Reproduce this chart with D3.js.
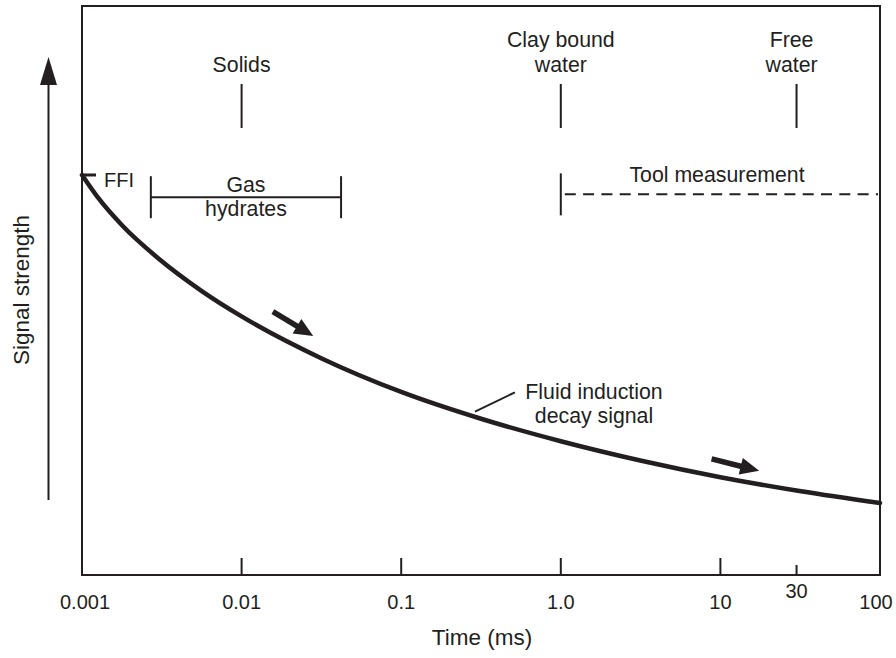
<!DOCTYPE html>
<html>
<head>
<meta charset="utf-8">
<script src="https://cdn.jsdelivr.net/npm/d3@7"></script>
<style>
  html, body { margin: 0; padding: 0; background: #fff; }
  svg { display: block; }
  text { font-family: "Liberation Sans", Arial, Helvetica, sans-serif; fill: #231f20; }
</style>
</head>
<body>
<svg id="chart" width="896" height="658"></svg>
<script>
// Fluid induction decay: time (ms) vs relative signal strength (0–100)
const decayTime   = [0.001, 0.00125, 0.0018, 0.003, 0.0056, 0.01, 0.032, 0.1, 0.32, 1, 3.2, 10, 32, 100];
const decaySignal = [70.30, 66.44, 61.33, 55.67, 49.95, 45.45, 38.02, 32.18, 27.42, 23.51, 20.08, 17.19, 14.71, 12.65];

// Time axis
const tickValues = [0.001, 0.01, 0.1, 1, 10, 30, 100];
const tickLabels = ["0.001", "0.01", "0.1", "1.0", "10", "30", "100"];

// Relaxation regions marked above the curve
const regionTimes  = [0.01, 1, 30];
const regionLabels = [["Solids"], ["Clay bound", "water"], ["Free", "water"]];

// Gas hydrates range (ms) and the level of its bracket
const hydrateRange = [0.0027, 0.042];
const hydrateLevel = 66.4;

// Tool measurement window starts here (ms)
const toolStart = 1;
const toolLevel = 66.9;

// FFI level at time zero
const ffiLevel = 70.3;

// Direction arrows along the curve: [t0, s0, t1, s1]
const flowArrows = [
  [0.0157, 46.3, 0.0281, 42.0],
  [8.81, 20.4, 17.5, 18.3]
];

// Leader for the curve label: [t0, s0, t1, s1]
const curveLeader = [0.29, 28.7, 0.516, 32.1];

const ink = "#231f20";
const svg = d3.select("#chart");

const plotL = 82, plotR = 880, plotT = 6, plotB = 575;
const x = d3.scaleLog().domain([0.001, 100]).range([plotL, plotR]);
const y = d3.scaleLinear().domain([0, 100]).range([plotB, plotT]);

// Frame
svg.append("rect")
  .attr("x", plotL).attr("y", plotT)
  .attr("width", plotR - plotL).attr("height", plotB - plotT)
  .attr("fill", "none").attr("stroke", ink).attr("stroke-width", 2);

// Bottom ticks (decades long, 30 ms short)
const inner = tickValues.filter(v => v > 0.001 && v < 100);
svg.append("g").selectAll("line").data(inner).join("line")
  .attr("x1", d => x(d)).attr("x2", d => x(d))
  .attr("y1", d => Number.isInteger(Math.log10(d)) ? plotB - 17 : plotB - 10)
  .attr("y2", plotB)
  .attr("stroke", ink).attr("stroke-width", 2);

svg.append("g").selectAll("text").data(tickValues).join("text")
  .attr("x", d => x(d) + (d === 100 ? -4 : (d === 0.001 ? 3 : 0)))
  .attr("y", d => d === 30 ? 598 : 609)
  .attr("text-anchor", "middle")
  .attr("font-size", 20)
  .text((d, i) => tickLabels[i]);

svg.append("text")
  .attr("x", 482).attr("y", 645)
  .attr("text-anchor", "middle").attr("font-size", 22.5)
  .text("Time (ms)");

// Vertical axis title with upward arrow
svg.append("text")
  .attr("transform", "translate(29,290) rotate(-90)")
  .attr("text-anchor", "middle").attr("font-size", 22.5)
  .text("Signal strength");

svg.append("line")
  .attr("x1", 48.5).attr("x2", 48.5).attr("y1", 500).attr("y2", 82)
  .attr("stroke", ink).attr("stroke-width", 2);
svg.append("path")
  .attr("d", "M48.5,57 L57,85 L40,85 Z")
  .attr("fill", ink);

// Decay curve
const pts = decayTime.map((t, i) => [x(t), y(decaySignal[i])]);
svg.append("path")
  .attr("d", d3.line().curve(d3.curveMonotoneX)(pts))
  .attr("fill", "none").attr("stroke", ink)
  .attr("stroke-width", 4.5).attr("stroke-linecap", "round");

// FFI mark
svg.append("line")
  .attr("x1", plotL).attr("x2", plotL + 14)
  .attr("y1", y(ffiLevel)).attr("y2", y(ffiLevel))
  .attr("stroke", ink).attr("stroke-width", 3);
svg.append("text")
  .attr("x", 104).attr("y", 187)
  .attr("font-size", 20)
  .text("FFI");

// Region markers
const reg = svg.append("g").selectAll("g").data(regionTimes).join("g");
reg.append("line")
  .attr("x1", d => x(d)).attr("x2", d => x(d))
  .attr("y1", 84).attr("y2", 128)
  .attr("stroke", ink).attr("stroke-width", 2);
reg.each(function (d, i) {
  const lines = regionLabels[i];
  const g = d3.select(this);
  lines.forEach((s, k) => {
    g.append("text")
      .attr("x", x(d) + (d === 30 ? -5 : 0))
      .attr("y", 72 - (lines.length - 1 - k) * 25)
      .attr("text-anchor", "middle").attr("font-size", 21.3)
      .text(s);
  });
});

// Gas hydrates bracket
const hx0 = x(hydrateRange[0]), hx1 = x(hydrateRange[1]), hy = y(hydrateLevel);
const br = svg.append("g").attr("stroke", ink).attr("stroke-width", 2);
br.append("line").attr("x1", hx0).attr("x2", hx1).attr("y1", hy).attr("y2", hy);
br.append("line").attr("x1", hx0).attr("x2", hx0).attr("y1", hy - 21).attr("y2", hy + 21);
br.append("line").attr("x1", hx1).attr("x2", hx1).attr("y1", hy - 21).attr("y2", hy + 21);
svg.append("text")
  .attr("x", (hx0 + hx1) / 2).attr("y", hy - 5)
  .attr("text-anchor", "middle").attr("font-size", 21.3).text("Gas");
svg.append("text")
  .attr("x", (hx0 + hx1) / 2).attr("y", hy + 19)
  .attr("text-anchor", "middle").attr("font-size", 21.3).text("hydrates");

// Tool measurement window
const tx = x(toolStart), ty = y(toolLevel);
svg.append("line")
  .attr("x1", tx).attr("x2", tx).attr("y1", ty - 21).attr("y2", ty + 21)
  .attr("stroke", ink).attr("stroke-width", 2);
svg.append("line")
  .attr("x1", tx + 4).attr("x2", plotR - 2).attr("y1", ty).attr("y2", ty)
  .attr("stroke", ink).attr("stroke-width", 2)
  .attr("stroke-dasharray", "11,7.3");
svg.append("text")
  .attr("x", 717).attr("y", ty - 12)
  .attr("text-anchor", "middle").attr("font-size", 21.3)
  .text("Tool measurement");

// Direction arrows
flowArrows.forEach(([t0, s0, t1, s1]) => {
  const x0 = x(t0), y0 = y(s0), x1 = x(t1), y1 = y(s1);
  const ang = Math.atan2(y1 - y0, x1 - x0);
  const hl = 19, hw = 8.5;
  const bx = x1 - hl * Math.cos(ang), by = y1 - hl * Math.sin(ang);
  const nx = -Math.sin(ang), ny = Math.cos(ang);
  svg.append("line")
    .attr("x1", x0).attr("y1", y0).attr("x2", bx + 2 * Math.cos(ang)).attr("y2", by + 2 * Math.sin(ang))
    .attr("stroke", ink).attr("stroke-width", 5.5);
  svg.append("path")
    .attr("d", `M${x1},${y1} L${bx + hw * nx},${by + hw * ny} L${bx - hw * nx},${by - hw * ny} Z`)
    .attr("fill", ink);
});

// Curve label and its leader
svg.append("line")
  .attr("x1", x(curveLeader[0])).attr("y1", y(curveLeader[1]))
  .attr("x2", x(curveLeader[2])).attr("y2", y(curveLeader[3]))
  .attr("stroke", ink).attr("stroke-width", 2);
svg.append("text")
  .attr("x", 594).attr("y", 399)
  .attr("text-anchor", "middle").attr("font-size", 21.3)
  .text("Fluid induction");
svg.append("text")
  .attr("x", 594).attr("y", 423)
  .attr("text-anchor", "middle").attr("font-size", 21.3)
  .text("decay signal");
</script>
</body>
</html>
